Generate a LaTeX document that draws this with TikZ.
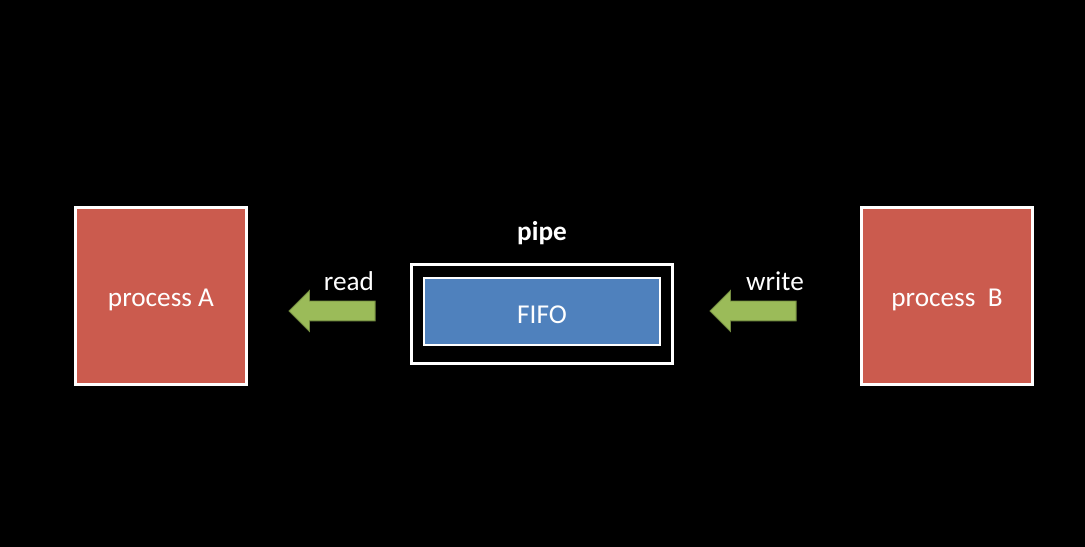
\documentclass[tikz,border=0pt]{standalone}
\usepackage{fontspec}
\setmainfont{Carlito}
\usetikzlibrary{positioning,shapes.arrows}
\definecolor{procred}{HTML}{CB5B4E}
\definecolor{fifoblue}{HTML}{4F81BD}
\definecolor{flowgreen}{HTML}{9BBB59}
\definecolor{flowedge}{HTML}{71893F}

\begin{document}
\begin{tikzpicture}[x=0.02cm,y=0.02cm,
	every node/.style={text=white,font=\fontsize{15.5}{18}\selectfont},
	process/.style={draw=white,line width=1.6pt,fill=procred,minimum width=3.42cm,minimum height=3.54cm,
		text height=0.51cm,text depth=0.1cm},
	pipebox/.style={draw=white,line width=1.6pt,fill=black,minimum width=5.22cm,minimum height=1.98cm},
	fifo/.style={draw=white,line width=1.1pt,fill=fifoblue,minimum width=4.72cm,minimum height=1.34cm,
		text height=0.47cm,text depth=0cm},
	flow/.style={single arrow,shape border rotate=180,draw=flowedge,line width=0.5pt,fill=flowgreen,
		inner sep=0.19cm,minimum height=1.72cm,single arrow head extend=0.21cm,anchor=tail},]

\fill[black] (0,0) rectangle (1085,547);

\node[process] (procA) at (161,251) {process A};
\node[process] (procB) at (947,251) {process\ \ B};

\node[pipebox] (pipe) at (542,233) {};
\node[fifo] (fifo) at (542,235.5) {FIFO};
\node[above=0.25cm of pipe,font=\fontsize{15.5}{18}\selectfont\bfseries] (pipelabel) {pipe};

\node[flow] (readflow) at (375.5,236) {};
\node[flow] (writeflow) at (796.5,236) {};
\node (readlabel) at (349,266) {read};
\node (writelabel) at (775,266) {write};
\end{tikzpicture}
\end{document}
